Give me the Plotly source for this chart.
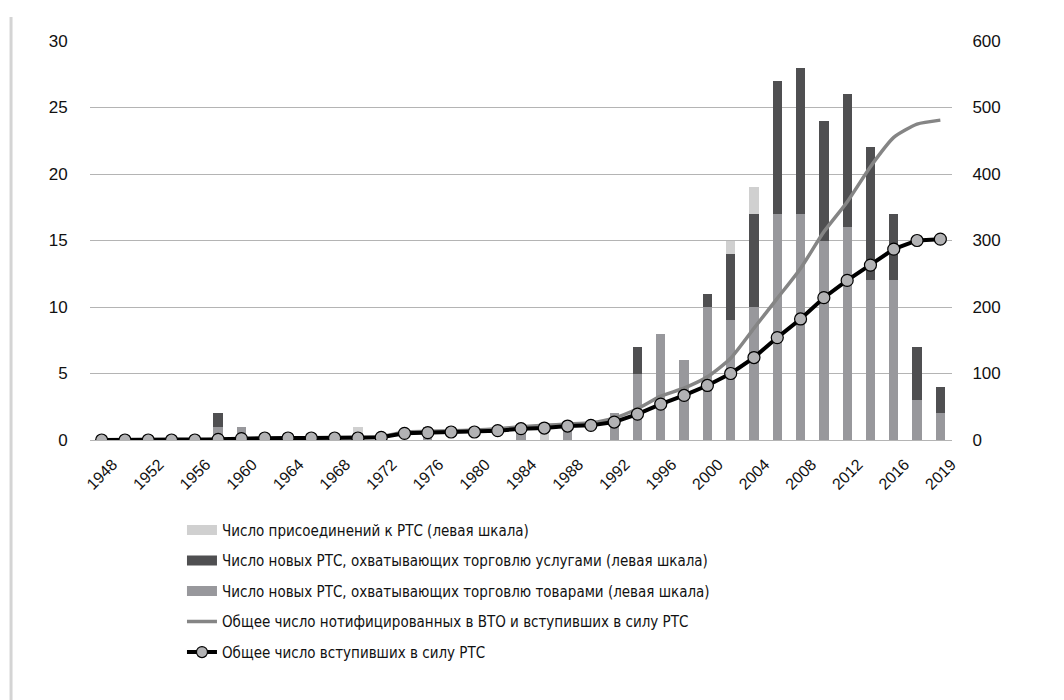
import plotly.graph_objects as go

years = ["1948", "1950", "1952", "1954", "1956", "1958", "1960", "1962", "1964", "1966",
         "1968", "1970", "1972", "1974", "1976", "1978", "1980", "1982", "1984", "1986",
         "1988", "1990", "1992", "1994", "1996", "1998", "2000", "2002", "2004", "2006",
         "2008", "2010", "2012", "2014", "2016", "2018", "2019"]
tick_labels = ["1948", "1952", "1956", "1960", "1964", "1968", "1972", "1976", "1980", "1984",
               "1988", "1992", "1996", "2000", "2004", "2008", "2012", "2016", "2019"]

goods = [0, 0, 0, 0, 0, 1, 1, 0, 0, 0, 0, 0, 0, 0, 1, 0, 0, 0, 1, 0,
         1, 0, 2, 5, 8, 6, 10, 9, 10, 17, 17, 15, 16, 12, 12, 3, 2]
services = [0, 0, 0, 0, 0, 1, 0, 0, 0, 0, 0, 0, 0, 0, 0, 0, 0, 0, 0, 0,
            0, 0, 0, 2, 0, 0, 1, 5, 7, 10, 11, 9, 10, 10, 5, 4, 2]
accessions = [0, 0, 0, 0, 0, 0, 0, 0, 0, 0, 0, 1, 0, 0, 0, 0, 0, 0, 0, 1,
              0, 0, 0, 0, 0, 0, 0, 1, 2, 0, 0, 0, 0, 0, 0, 0, 0]
notified_total = [0, 0, 0, 0, 0, 1, 2, 3, 3, 3, 3, 3, 5, 12, 13, 14, 15, 17, 20, 22,
                  24, 26, 33, 47, 66, 78, 95, 123, 168, 213, 258, 313, 358, 411, 455, 475, 481]
in_force_total = [0, 0, 0, 0, 0, 1, 2, 3, 3, 3, 3, 3, 4, 10, 11, 12, 12, 14, 17, 18,
                  21, 22, 27, 39, 54, 67, 82, 100, 124, 154, 182, 214, 240, 263, 287, 300, 302]

names = [
    "Число присоединений к РТС (левая шкала)",
    "Число новых РТС, охватывающих торговлю услугами (левая шкала)",
    "Число новых РТС, охватывающих торговлю товарами (левая шкала)",
    "Общее число нотифицированных в ВТО и вступивших в силу РТС",
    "Общее число вступивших в силу РТС",
]

C_ACC = "#d0d0d0"
C_SRV = "#4f4f51"
C_GDS = "#98989c"
C_NOT = "#858585"

FONT = "Liberation Sans, Arial, sans-serif"
LFONT = "DejaVu Sans Condensed, Liberation Sans Narrow, Liberation Sans, sans-serif"

fig = go.Figure()
fig.add_trace(go.Bar(x=years, y=goods, name=names[2], marker_color=C_GDS,
                     marker_line_width=0, showlegend=False))
fig.add_trace(go.Bar(x=years, y=services, name=names[1], marker_color=C_SRV,
                     marker_line_width=0, showlegend=False))
fig.add_trace(go.Bar(x=years, y=accessions, name=names[0], marker_color=C_ACC,
                     marker_line_width=0, showlegend=False))
fig.add_trace(go.Scatter(x=years, y=notified_total, name=names[3], yaxis="y2",
                         mode="lines", line=dict(color=C_NOT, width=3.5, shape="spline", smoothing=0.6),
                         showlegend=False))
fig.add_trace(go.Scatter(x=years, y=in_force_total, name=names[4], yaxis="y2",
                         mode="lines+markers",
                         line=dict(color="#000000", width=4),
                         marker=dict(size=12, color="#b2b2b4", line=dict(color="#000000", width=1.2)),
                         showlegend=False))

# legend entries (wide swatches like the original)
legend_specs = [
    (names[0], dict(color=C_ACC, width=11), None),
    (names[1], dict(color=C_SRV, width=11), None),
    (names[2], dict(color=C_GDS, width=11), None),
    (names[3], dict(color=C_NOT, width=3.5), None),
    (names[4], dict(color="#000000", width=4),
     dict(size=11, color="#b2b2b4", line=dict(color="#000000", width=1.2))),
]
for i, (nm, ln, mk) in enumerate(legend_specs):
    fig.add_trace(go.Scatter(x=[None], y=[None], name=nm,
                             mode="lines+markers" if mk else "lines",
                             line=ln, marker=mk, legendgroup=f"g{i}", legendrank=i + 1,
                             hoverinfo="skip"))

fig.update_layout(
    width=1056, height=692,
    barmode="stack", bargap=0.6,
    paper_bgcolor="white", plot_bgcolor="white",
    font=dict(family=FONT, size=17, color="#111111"),
    margin=dict(l=82, r=112, t=33, b=260),
    showlegend=True,
    legend=dict(x=0.1067, y=-0.185, xanchor="left", yanchor="top",
                traceorder="grouped", tracegroupgap=8,
                font=dict(family=LFONT, size=15, color="#111111"),
                itemwidth=30),
    xaxis=dict(type="category", categoryorder="array", categoryarray=years,
               range=[-0.5, len(years) - 0.5],
               tickvals=tick_labels, ticktext=tick_labels,
               tickangle=-45, tickfont=dict(size=16), showgrid=False,
               ticklabelshift=11, ticklabelstandoff=11,
               showline=False, ticks="", automargin=False),
    yaxis=dict(range=[0, 30], dtick=5, showgrid=True, gridcolor="#b4b4b4", gridwidth=1.2,
               zeroline=True, zerolinecolor="#b4b4b4", zerolinewidth=1.2,
               showline=False, ticks="outside", ticklen=18, tickcolor="rgba(0,0,0,0)",
               automargin=False),
    yaxis2=dict(range=[0, 600], dtick=100, overlaying="y", side="right",
                showgrid=False, zeroline=False, showline=False,
                ticks="outside", ticklen=16, tickcolor="rgba(0,0,0,0)", automargin=False),
    shapes=[dict(type="line", xref="paper", yref="paper",
                 x0=-0.0916, x1=-0.0916, y0=1.06, y1=-0.66,
                 line=dict(color="#d4d4d4", width=3))],
)

fig.write_html("out.html")
